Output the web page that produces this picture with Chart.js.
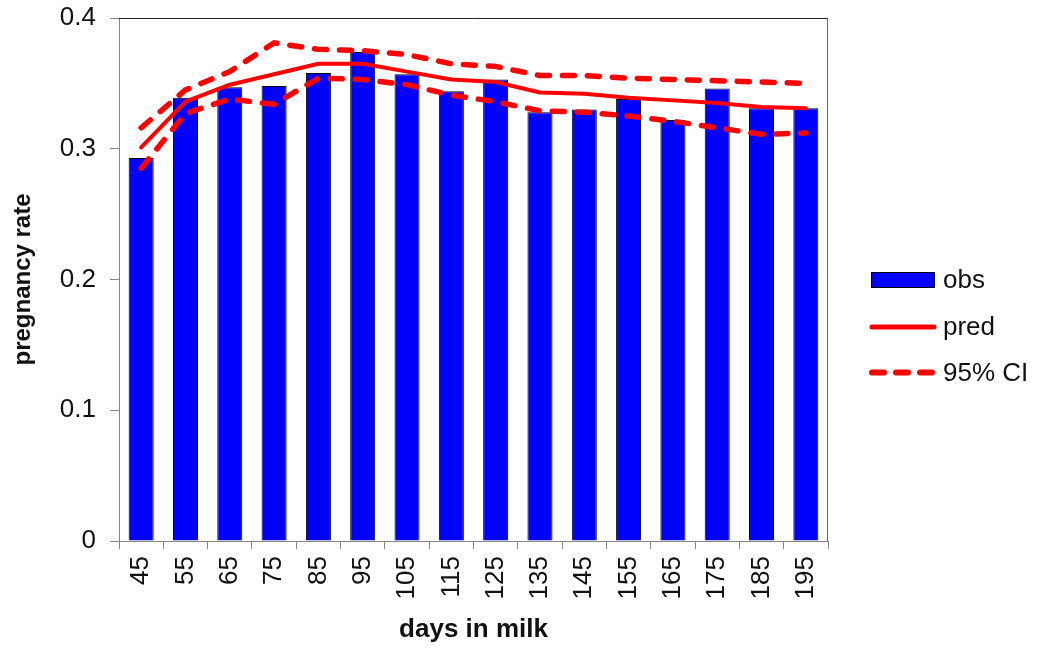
<!DOCTYPE html>
<html>
<head>
<meta charset="utf-8">
<title>pregnancy rate by days in milk</title>
<script src="https://cdn.jsdelivr.net/npm/chart.js@4/dist/chart.umd.min.js"></script>
<style>
  html, body { margin: 0; padding: 0; background: #ffffff; }
  #wrap { position: relative; width: 1038px; height: 648px; }
</style>
</head>
<body>
<div id="wrap"><canvas id="chart"></canvas></div>
<script>
// days in milk (category labels)
const daysInMilk = ['45', '55', '65', '75', '85', '95', '105', '115', '125', '135', '145', '155', '165', '175', '185', '195'];

// observed pregnancy rate
const obs = [0.293, 0.339, 0.347, 0.348, 0.358, 0.374, 0.357, 0.344, 0.353, 0.328, 0.330, 0.338, 0.322, 0.346, 0.331, 0.331];

// predicted pregnancy rate
const pred = [0.301, 0.336, 0.349, 0.357, 0.365, 0.365, 0.359, 0.353, 0.351, 0.343, 0.342, 0.339, 0.337, 0.335, 0.332, 0.331];

// 95% confidence interval bounds
const ciUpper = [0.316, 0.345, 0.359, 0.381, 0.376, 0.375, 0.372, 0.365, 0.363, 0.356, 0.356, 0.354, 0.353, 0.352, 0.351, 0.350];
const ciLower = [0.285, 0.327, 0.338, 0.334, 0.354, 0.353, 0.349, 0.341, 0.336, 0.329, 0.328, 0.325, 0.321, 0.316, 0.311, 0.312];

// y axis tick values
const yTicks = [0, 0.1, 0.2, 0.3, 0.4];

const FONT = "'Liberation Sans', Arial, sans-serif";
const AXIS_GREY = '#868686';
const RED = '#ff0000';
const BLUE = '#0000ff';

// Frame on the top and right of the plot area
const plotFrame = {
  id: 'plotFrame',
  afterDatasetsDraw(chart) {
    const { ctx, chartArea: a } = chart;
    ctx.save();
    ctx.lineWidth = 1;
    ctx.strokeStyle = '#222222';
    ctx.beginPath();
    ctx.moveTo(a.left, a.top + 0.5);
    ctx.lineTo(a.right, a.top + 0.5);
    ctx.stroke();
    ctx.strokeStyle = '#666666';
    ctx.beginPath();
    ctx.moveTo(a.right - 0.5, a.top);
    ctx.lineTo(a.right - 0.5, a.bottom);
    ctx.stroke();
    ctx.restore();
  }
};

// Legend to the right of the plot: bar swatch, solid line, dashed line
const sideLegend = {
  id: 'sideLegend',
  afterDraw(chart) {
    const { ctx, chartArea: a } = chart;
    const ds = chart.data.datasets;
    const x0 = a.right + 43;
    const sw = 64;
    const tx = x0 + sw + 8;
    const mid = (a.top + a.bottom) / 2;
    const rows = [mid + 0.5, mid + 47.5, mid + 93];
    ctx.save();
    ctx.font = '26px ' + FONT;
    ctx.textBaseline = 'middle';
    ctx.textAlign = 'left';

    // obs
    ctx.fillStyle = ds[0].backgroundColor;
    ctx.fillRect(x0, rows[0] - 7.5, sw, 15);
    ctx.strokeStyle = '#000000';
    ctx.lineWidth = 1;
    ctx.strokeRect(x0 + 0.5, rows[0] - 7.5, sw - 1, 15);
    ctx.fillStyle = '#111111';
    ctx.fillText(ds[0].label, tx, rows[0] + 1);

    // pred
    ctx.strokeStyle = ds[1].borderColor;
    ctx.lineWidth = 5;
    ctx.lineCap = 'round';
    ctx.beginPath();
    ctx.moveTo(x0 + 1, rows[1]);
    ctx.lineTo(x0 + sw - 1, rows[1]);
    ctx.stroke();
    ctx.fillText(ds[1].label, tx, rows[1] + 1);

    // 95% CI
    ctx.strokeStyle = ds[2].borderColor;
    ctx.lineWidth = 6;
    ctx.setLineDash([12, 12]);
    ctx.beginPath();
    ctx.moveTo(x0 + 1, rows[2]);
    ctx.lineTo(x0 + sw - 2, rows[2]);
    ctx.stroke();
    ctx.setLineDash([]);
    ctx.fillText(ds[2].label, tx, rows[2] + 1);
    ctx.restore();
  }
};

new Chart(document.getElementById('chart'), {
  data: {
    labels: daysInMilk,
    datasets: [
      {
        type: 'bar',
        label: 'obs',
        data: obs,
        backgroundColor: BLUE,
        borderColor: '#000000',
        borderWidth: 1,
        barPercentage: 0.565,
        categoryPercentage: 1.0,
        order: 2
      },
      {
        type: 'line',
        label: 'pred',
        data: pred,
        borderColor: RED,
        borderWidth: 4,
        pointRadius: 0,
        tension: 0,
        fill: false,
        borderCapStyle: 'round',
        borderJoinStyle: 'round',
        order: 1
      },
      {
        type: 'line',
        label: '95% CI',
        data: ciUpper,
        borderColor: RED,
        borderWidth: 5.5,
        borderDash: [12, 13],
        borderCapStyle: 'round',
        pointRadius: 0,
        tension: 0,
        fill: false,
        order: 1
      },
      {
        type: 'line',
        label: '95% CI',
        data: ciLower,
        borderColor: RED,
        borderWidth: 5.5,
        borderDash: [12, 13],
        borderCapStyle: 'round',
        pointRadius: 0,
        tension: 0,
        fill: false,
        order: 1
      }
    ]
  },
  options: {
    responsive: true,
    maintainAspectRatio: false,
    animation: false,
    layout: { padding: { top: 18, right: 210, left: 0, bottom: 0 } },
    plugins: {
      legend: { display: false },
      tooltip: { enabled: false }
    },
    scales: {
      x: {
        offset: true,
        grid: {
          offset: true,
          drawOnChartArea: false,
          drawTicks: true,
          tickLength: 8,
          color: AXIS_GREY,
          lineWidth: 1
        },
        border: { display: true, color: AXIS_GREY, width: 1 },
        ticks: {
          minRotation: 90,
          maxRotation: 90,
          autoSkip: false,
          padding: 7,
          color: '#111111',
          font: { family: FONT, size: 26 }
        },
        title: {
          display: true,
          text: 'days in milk',
          color: '#111111',
          font: { family: FONT, size: 26, weight: 'bold' },
          padding: { top: 0, bottom: 3 }
        },
        afterFit(scale) {
          scale.height = 107;
          scale.paddingLeft = 0;
          scale.paddingRight = 0;
        }
      },
      y: {
        min: 0,
        max: 0.4,
        afterBuildTicks(scale) { scale.ticks = yTicks.map(v => ({ value: v })); },
        grid: {
          drawOnChartArea: false,
          drawTicks: true,
          tickLength: 9,
          color: AXIS_GREY,
          lineWidth: 1
        },
        border: { display: true, color: AXIS_GREY, width: 1 },
        ticks: {
          padding: 14,
          color: '#111111',
          font: { family: FONT, size: 26 },
          callback: (v) => (v === 0 ? '0' : Number(v).toFixed(1))
        },
        title: {
          display: true,
          text: 'pregnancy rate',
          color: '#111111',
          font: { family: FONT, size: 24, weight: 'bold' },
          padding: { top: 9, bottom: 0 }
        },
        afterFit(scale) {
          scale.width = 119;
          scale.paddingTop = 0;
          scale.paddingBottom = 0;
        }
      }
    }
  },
  plugins: [plotFrame, sideLegend]
});
</script>
</body>
</html>
